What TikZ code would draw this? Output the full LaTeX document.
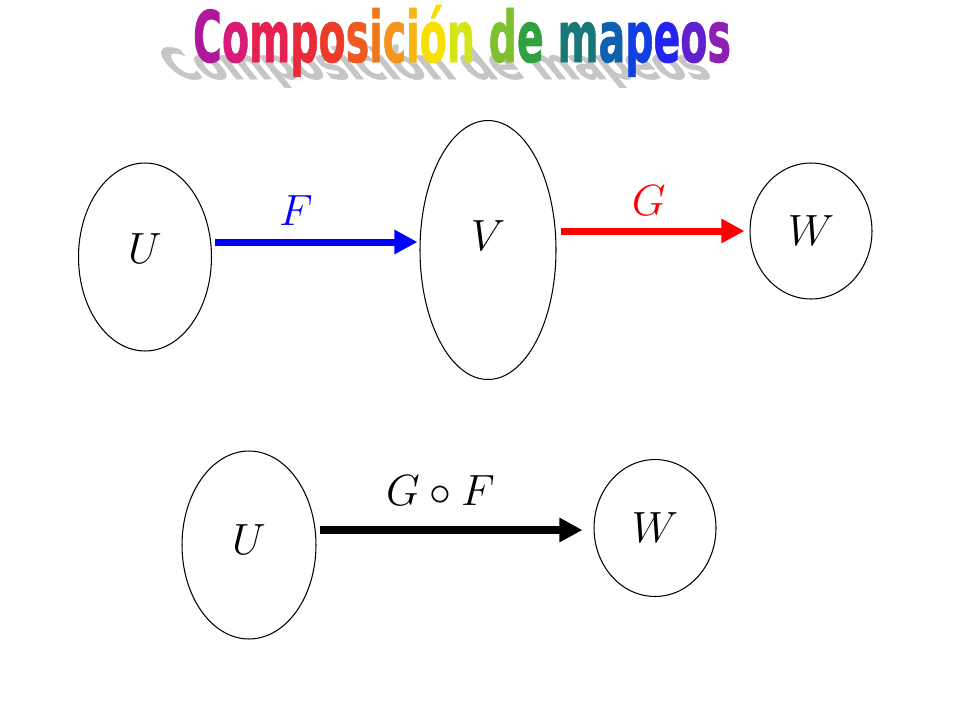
\documentclass[tikz,border=0pt]{standalone}
\usepackage{fontspec}
\usepackage{xcolor}
\usepackage{tikz}
\usetikzlibrary{shapes.geometric, arrows.meta}
\newfontfamily\titlefont{DejaVu Sans}[BoldFeatures={FakeBold=1.2}]
\definecolor{l1}{HTML}{B0189C}
\definecolor{l2}{HTML}{D81A78}
\definecolor{l3}{HTML}{E62050}
\definecolor{l4}{HTML}{E82A3A}
\definecolor{l5}{HTML}{EA3C28}
\definecolor{l6}{HTML}{EE5A20}
\definecolor{l7}{HTML}{F07818}
\definecolor{l8}{HTML}{F59420}
\definecolor{l9}{HTML}{F8B410}
\definecolor{l10}{HTML}{F6E000}
\definecolor{l11}{HTML}{D4E618}
\definecolor{l12}{HTML}{7EC030}
\definecolor{l13}{HTML}{30A040}
\definecolor{l14}{HTML}{187878}
\definecolor{l15}{HTML}{1060B0}
\definecolor{l16}{HTML}{1040E0}
\definecolor{l17}{HTML}{2424F0}
\definecolor{l18}{HTML}{6020D0}
\definecolor{l19}{HTML}{8C20B0}
\tikzstyle{conj} = [ellipse, draw=black, line width=0.6pt, inner sep=0pt]
\tikzstyle{flecha} = [line width=0.14cm, -{Triangle[length=0.46cm, width=0.46cm]}]
\tikzstyle{etiq} = [font=\fontsize{28}{32}\selectfont, inner sep=0pt]
\tikzstyle{titulo} = [font=\titlefont\bfseries\fontsize{40.5}{46}\selectfont, inner sep=0pt]

\begin{document}
\begin{tikzpicture}[x=0.02cm, y=-0.02cm]
   \useasboundingbox (0,0) rectangle (960,720);
   % titulo con sombra
   \begin{scope}[shift={(446,79)}, x=1cm, y=1cm, xslant=-0.8, yscale=0.6]
      \node (sombra) [titulo, transform shape, anchor=base, text=gray!45] {\scalebox{0.555}[1]{Composición de mapeos}};
   \end{scope}
   \node (tit) [titulo, anchor=base] at (462,62) {\scalebox{0.555}[1]{\textcolor{l1}{C}\textcolor{l2}{o}\textcolor{l3}{m}\textcolor{l4}{p}\textcolor{l5}{o}\textcolor{l6}{s}\textcolor{l7}{i}\textcolor{l8}{c}\textcolor{l9}{i}\textcolor{l10}{ó}\textcolor{l11}{n} \textcolor{l12}{d}\textcolor{l13}{e} \textcolor{l14}{m}\textcolor{l15}{a}\textcolor{l16}{p}\textcolor{l17}{e}\textcolor{l18}{o}\textcolor{l19}{s}}};
   % conjuntos
   \node (u) [conj, minimum width=2.66cm, minimum height=3.76cm, label={[etiq, yshift=0.16cm]center:$U$}] at (145,257) {};
   \node (v) [conj, minimum width=2.72cm, minimum height=5.18cm, label={[etiq, yshift=0.28cm]center:$V$}] at (488,250) {};
   \node (w) [conj, minimum width=2.44cm, minimum height=2.72cm, label={[etiq]center:$W$}] at (811,231) {};
   \node (u2) [conj, minimum width=2.68cm, minimum height=3.76cm, label={[etiq, yshift=0.1cm]center:$U$}] at (249,545) {};
   \node (w2) [conj, minimum width=2.44cm, minimum height=2.74cm, label={[etiq]center:$W$}] at (655,528) {};
   % mapeos
   \draw [flecha, blue] ([shift={(3,-15)}]u.east) -- node[etiq, pos=0.4, above=0.26cm] {$F$} ([shift={(-2,-8)}]v.west);
   \draw [flecha, red] ([shift={(4,-19)}]v.east) -- node[etiq, pos=0.48, above=0.24cm] {$G$} ([shift={(-5,0)}]w.west);
   \draw [flecha, line width=0.16cm, black] ([shift={(3,-15)}]u2.east) -- node[etiq, pos=0.46, above=0.42cm] {$G\circ F$} ([shift={(-11,2)}]w2.west);
\end{tikzpicture}
\end{document}
